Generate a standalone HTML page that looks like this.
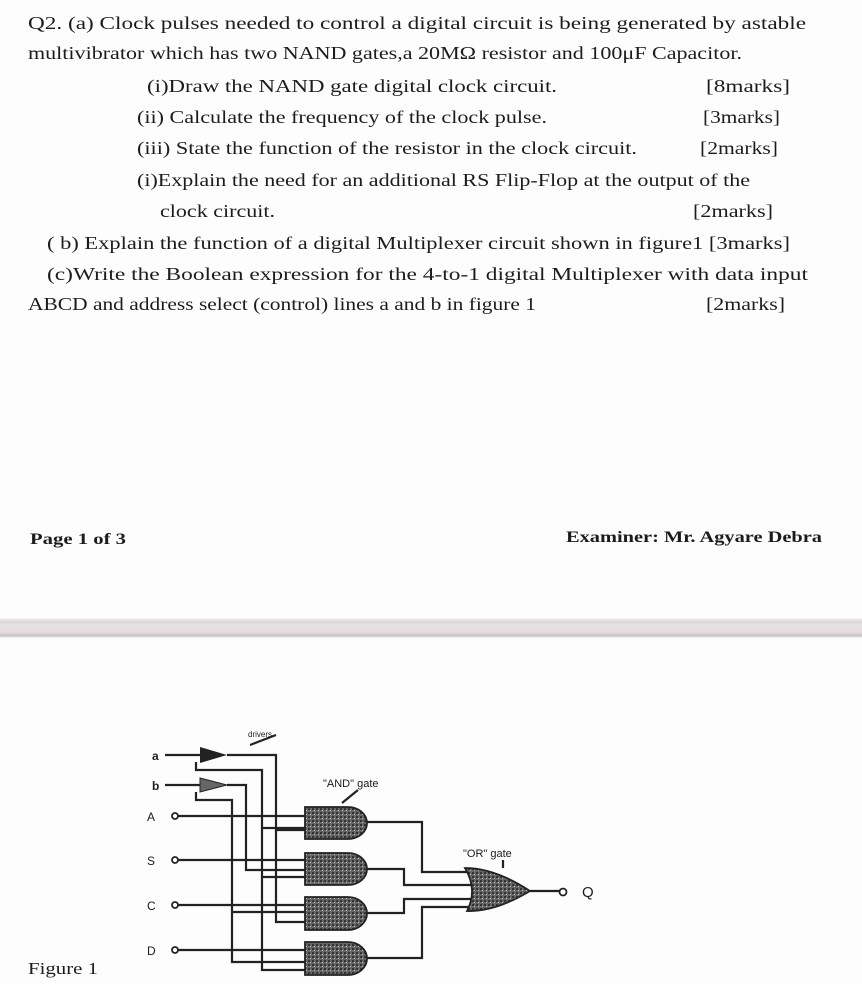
<!DOCTYPE html>
<html><head><meta charset="utf-8"><style>
html,body{margin:0;padding:0;background:#fdfdfd;}
svg{display:block}
text{font-family:"Liberation Serif",serif;fill:#1c1c1c;}
.s{font-family:"Liberation Sans",sans-serif;}
</style></head><body>
<svg width="862" height="984" viewBox="0 0 862 984" xmlns="http://www.w3.org/2000/svg">
<defs>
<linearGradient id="band" x1="0" y1="0" x2="0" y2="1">
<stop offset="0" stop-color="#f3f1f2"/><stop offset="0.2" stop-color="#d9d5d7"/>
<stop offset="0.35" stop-color="#e8e3e4"/><stop offset="0.7" stop-color="#e6dcde"/>
<stop offset="0.88" stop-color="#c9c3c7"/><stop offset="1" stop-color="#f5f4f5"/>
</linearGradient>
<pattern id="tex" width="4" height="4" patternUnits="userSpaceOnUse">
<rect width="4" height="4" fill="#666"/><rect width="2" height="2" fill="#333"/><rect x="2" y="2" width="1" height="1" fill="#bbb"/>
</pattern>
</defs>
<g font-size="18">
<text x="28" y="29" textLength="778" lengthAdjust="spacingAndGlyphs">Q2. (a) Clock pulses needed to control a digital circuit is being generated by astable</text>
<text x="28" y="59" textLength="714" lengthAdjust="spacingAndGlyphs">multivibrator which has two NAND gates,a 20MΩ resistor and 100μF Capacitor.</text>
<text x="147" y="92" textLength="410" lengthAdjust="spacingAndGlyphs">(i)Draw the NAND gate digital clock circuit.</text>
<text x="706" y="92" textLength="84" lengthAdjust="spacingAndGlyphs">[8marks]</text>
<text x="137" y="123" textLength="410" lengthAdjust="spacingAndGlyphs">(ii) Calculate the frequency of the clock pulse.</text>
<text x="703" y="123" textLength="77" lengthAdjust="spacingAndGlyphs">[3marks]</text>
<text x="137" y="154" textLength="500" lengthAdjust="spacingAndGlyphs">(iii) State the function of the resistor in the clock circuit.</text>
<text x="700" y="154" textLength="78" lengthAdjust="spacingAndGlyphs">[2marks]</text>
<text x="137" y="186" textLength="613" lengthAdjust="spacingAndGlyphs">(i)Explain the need for an additional RS Flip-Flop at the output of the</text>
<text x="160" y="217" textLength="115" lengthAdjust="spacingAndGlyphs">clock circuit.</text>
<text x="693" y="217" textLength="80" lengthAdjust="spacingAndGlyphs">[2marks]</text>
<text x="47" y="249" textLength="743" lengthAdjust="spacingAndGlyphs">( b) Explain the function of a digital Multiplexer circuit shown in figure1 [3marks]</text>
<text x="47" y="280" textLength="761" lengthAdjust="spacingAndGlyphs">(c)Write the Boolean expression for the 4-to-1 digital Multiplexer with data input</text>
<text x="28" y="310" textLength="508" lengthAdjust="spacingAndGlyphs">ABCD and address select (control) lines a and b in figure 1</text>
<text x="706" y="310" textLength="79" lengthAdjust="spacingAndGlyphs">[2marks]</text>
</g>
<text x="30" y="544" font-size="16" font-weight="bold" textLength="96" lengthAdjust="spacingAndGlyphs">Page 1 of 3</text>
<text x="566" y="542" font-size="16" font-weight="bold" textLength="256" lengthAdjust="spacingAndGlyphs">Examiner: Mr. Agyare Debra</text>
<rect x="0" y="618" width="862" height="20" fill="url(#band)"/>
<text x="28" y="974" font-size="17" textLength="70" lengthAdjust="spacingAndGlyphs">Figure 1</text>

<g stroke="#222" stroke-width="2.2" fill="none">
<line x1="178" y1="816" x2="305" y2="816"/>
<line x1="178" y1="860" x2="305" y2="860"/>
<line x1="178" y1="905" x2="305" y2="905"/>
<line x1="178" y1="950" x2="305" y2="950"/>
<line x1="165" y1="755" x2="200" y2="755"/>
<line x1="165" y1="785" x2="200" y2="785"/>
<polyline points="227,755 276,755 276,922 305,922"/>
<polyline points="196,762 196,770 262,770 262,828 305,828"/>
<polyline points="262,828 262,970 305,970"/>
<polyline points="227,785 246,785 246,870 305,870"/>
<polyline points="196,792 196,800 232,800 232,962 305,962"/>
<polyline points="232,912 305,912"/>
<polyline points="276,830 305,830"/>
<polyline points="262,877 305,877"/>
<polyline points="367,822 422,822 422,872 472,872"/>
<polyline points="367,869 404,869 404,885 472,885"/>
<polyline points="367,913 404,913 404,899 472,899"/>
<polyline points="367,958 422,958 422,907 470,907"/>
<line x1="530" y1="891" x2="560" y2="891"/>
<line x1="358" y1="790" x2="342" y2="803"/>
<line x1="503" y1="860" x2="503" y2="868"/>
<line x1="250" y1="745" x2="276" y2="735"/>
</g>
<polygon points="200,747 227,755 200,763" fill="#222"/>
<polygon points="200,778 227,785 200,792" fill="#666" stroke="#222"/>
<g fill="url(#tex)" stroke="#222" stroke-width="1.8">
<path d="M305,807 H348 A19,16 0 0 1 348,839 H305 Z"/>
<path d="M305,853 H348 A19,16 0 0 1 348,885 H305 Z"/>
<path d="M305,897 H348 A19,16.5 0 0 1 348,930 H305 Z"/>
<path d="M305,942 H348 A19,16.5 0 0 1 348,975 H305 Z"/>
<path d="M465,868 Q495,868 530,891 Q495,912 467,911 Q478,890 465,868 Z"/>
</g>
<g fill="#fff" stroke="#222" stroke-width="1.8">
<circle cx="175" cy="816" r="3"/><circle cx="175" cy="860" r="3"/>
<circle cx="175" cy="905" r="3"/><circle cx="175" cy="950" r="3"/>
<circle cx="563" cy="892" r="3.5"/>
</g>
<g font-size="12">
<text class="s" x="152" y="760" font-weight="bold">a</text>
<text class="s" x="152" y="790" font-weight="bold">b</text>
<text class="s" x="147" y="821">A</text>
<text class="s" x="147" y="865">S</text>
<text class="s" x="147" y="910">C</text>
<text class="s" x="147" y="955">D</text>
<text class="s" x="323" y="787" font-size="11">"AND" gate</text>
<text class="s" x="463" y="857" font-size="11">"OR" gate</text>
<text class="s" x="248" y="737" font-size="8">drivers</text>
<text class="s" x="582" y="897" font-size="15">Q</text>
</g>
</svg>
</body></html>
